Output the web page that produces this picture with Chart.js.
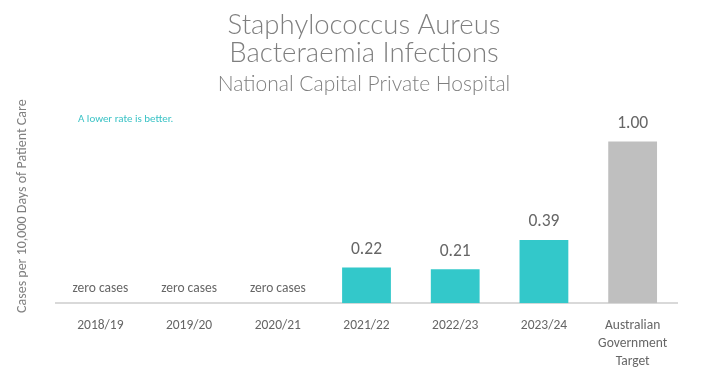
<!DOCTYPE html>
<html>
<head>
<meta charset="utf-8">
<script src="https://cdn.jsdelivr.net/npm/chart.js@4"></script>
<style>
html,body{margin:0;padding:0;background:#fff;}
#wrap{width:701px;height:377px;}
</style>
</head>
<body>
<div id="wrap"><canvas id="c" width="701" height="377"></canvas></div>
<script>
const categories = ['2018/19','2019/20','2020/21','2021/22','2022/23','2023/24',['Australian','Government','Target']];
const rates = [0, 0, 0, 0.22, 0.21, 0.39, 1.00];
const barColors = ['#33C8CA','#33C8CA','#33C8CA','#33C8CA','#33C8CA','#33C8CA','#BFBFBF'];
const titleLines = ['Staphylococcus Aureus','Bacteraemia Infections'];
const subtitleText = 'National Capital Private Hospital';
const yAxisTitle = 'Cases per 10,000 Days of Patient Care';
const noteText = 'A lower rate is better.';
const zeroText = 'zero cases';

const labelFont = '"Carlito","Open Sans",sans-serif';

const valueLabels = {
  id: 'valueLabels',
  afterDatasetsDraw(chart) {
    const ctx = chart.ctx;
    const meta = chart.getDatasetMeta(0);
    ctx.save();
    ctx.textAlign = 'center';
    ctx.textBaseline = 'middle';
    ctx.fillStyle = '#666666';
    meta.data.forEach((bar, i) => {
      const v = rates[i];
      if (v === 0) {
        ctx.font = '13.5px ' + labelFont;
        ctx.fillText(zeroText, bar.x, bar.base - 15);
      } else {
        ctx.font = '17.5px ' + labelFont;
        ctx.fillText(v.toFixed(2), bar.x, bar.y - 18);
      }
    });
    ctx.textAlign = 'left';
    ctx.font = '11px ' + labelFont;
    ctx.fillStyle = '#3CC3C6';
    ctx.fillText(noteText, chart.chartArea.left + 22, 119);
    ctx.restore();
  }
};

new Chart(document.getElementById('c'), {
  type: 'bar',
  data: {
    labels: categories,
    datasets: [{
      data: rates,
      backgroundColor: barColors,
      borderWidth: 0,
      barPercentage: 0.55,
      categoryPercentage: 1.0
    }]
  },
  options: {
    responsive: false,
    animation: false,
    devicePixelRatio: 1,
    layout: { padding: { left: 51, right: 24, top: 0, bottom: -8 } },
    plugins: {
      legend: { display: false },
      tooltip: { enabled: false },
      title: {
        display: true,
        text: titleLines,
        color: '#7F7F7F',
        font: { family: 'Lato', size: 27.5, weight: '300', lineHeight: 1.0 },
        padding: { top: 11.5, bottom: 5.5 }
      },
      subtitle: {
        display: true,
        text: subtitleText,
        color: '#7F7F7F',
        font: { family: 'Lato', size: 21, weight: '300', lineHeight: 1.15 },
        padding: { top: 0, bottom: 13 }
      }
    },
    scales: {
      x: {
        grid: { display: false, drawTicks: false },
        border: { display: true, color: '#D9D9D9', width: 2 },
        ticks: {
          color: '#666666',
          font: { family: labelFont, size: 13.5, lineHeight: 1.33 },
          padding: 14,
          maxRotation: 0,
          autoSkip: false
        }
      },
      y: {
        min: 0,
        max: 1.2,
        grid: { display: false, drawTicks: false },
        border: { display: false },
        ticks: { display: false },
        title: {
          display: true,
          text: yAxisTitle,
          color: '#7F7F7F',
          font: { family: labelFont, size: 14, lineHeight: 1.2 },
          padding: { top: -37.4, bottom: 25.6 }
        }
      }
    }
  },
  plugins: [valueLabels]
});
</script>
</body>
</html>
